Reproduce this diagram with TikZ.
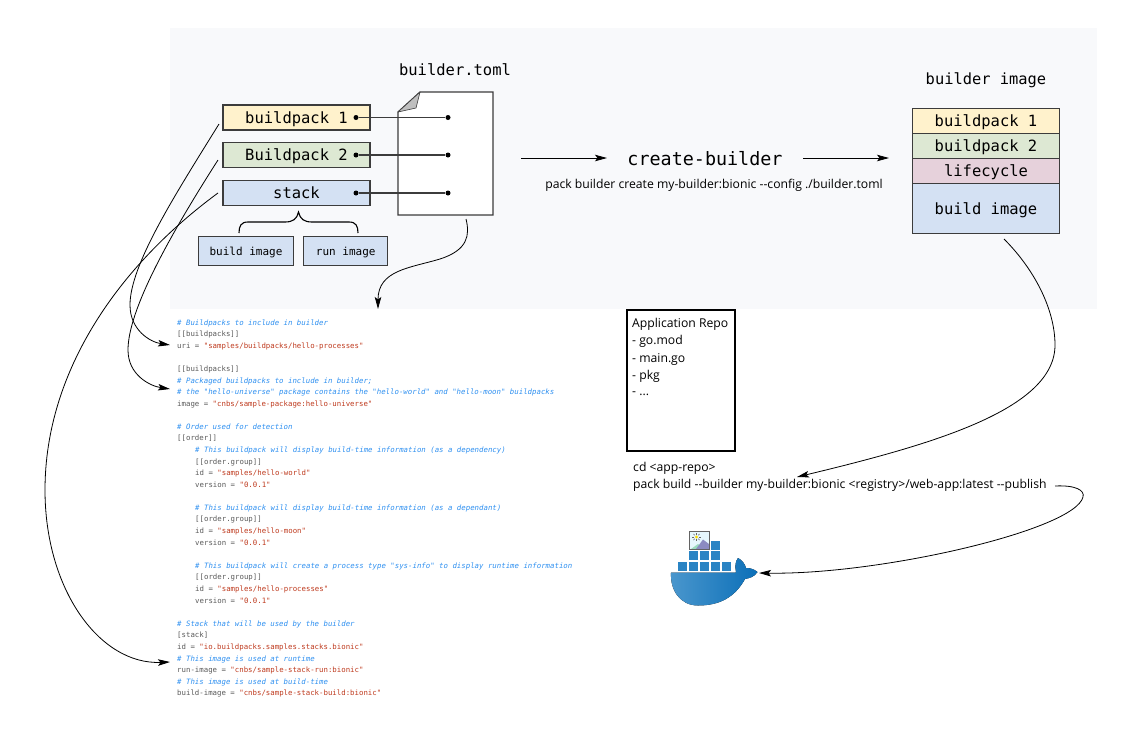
\documentclass[tikz,border=0pt]{standalone}
\usepackage{fontspec}
\setmainfont{Open Sans}
\newfontfamily\monofont{DejaVu Sans Mono}
\usetikzlibrary{positioning,arrows.meta}
\definecolor{panelbg}{HTML}{F8F9FB}
\definecolor{packyellow}{HTML}{FFF2CC}
\definecolor{packgreen}{HTML}{DDE8D3}
\definecolor{packblue}{HTML}{D4E1F3}
\definecolor{packpink}{HTML}{E6D1DB}
\definecolor{edgegrey}{HTML}{3C3C3C}
\definecolor{tomlgrey}{HTML}{5A5A5A}
\definecolor{tomlblue}{HTML}{2F90F0}
\definecolor{tomlred}{HTML}{BE3A1E}
\definecolor{whaleblue}{HTML}{2A84C4}
\definecolor{whaledeep}{HTML}{0B6FB8}
\newcommand{\tomlnote}[1]{\textcolor{tomlblue}{\itshape\#~#1}}
\newcommand{\tomlval}[1]{\textcolor{tomlred}{#1}}
\begin{document}
\begin{tikzpicture}[
    x=1pt, y=-1pt,
    box/.style={rectangle, draw=edgegrey, line width=1.1pt, outer sep=0pt, minimum width=147pt, minimum height=25pt, inner sep=0pt, text height=13pt, text depth=1.5pt, font=\monofont\fontsize{15.5}{18}\selectfont},
    smallbox/.style={rectangle, draw=edgegrey, line width=1.1pt, outer sep=0pt, fill=packblue, minimum height=28.5pt, inner sep=0pt, text height=9.5pt, text depth=1pt, font=\monofont\fontsize{11}{13}\selectfont},
    layer/.style={box, minimum width=146.5pt},
    title/.style={inner sep=0pt, font=\monofont\fontsize{15.5}{18}\selectfont},
    plain/.style={inner sep=0pt, anchor=west, font=\fontsize{12.2}{16}\selectfont},
    toml/.style={inner sep=0pt, anchor=west, text=tomlgrey, font=\monofont\fontsize{7.37}{9}\selectfont},
    dot/.style={circle, fill=black, inner sep=0pt, minimum size=5pt},
    arrow/.style={-{Stealth[length=12pt,width=6.5pt,inset=2.5pt]}, line width=0.8pt},
    link/.style={line width=1.1pt, edgegrey},
    cube/.style={fill=whaleblue, draw=none}
]
    % Panel
    \fill[panelbg] (170,28) rectangle (1097,309);

    % Document
    \coordinate (sheetA) at (420,92);
    \coordinate (sheetB) at (493,92);
    \coordinate (sheetC) at (493,215);
    \coordinate (sheetD) at (398,215);
    \coordinate (sheetE) at (398,112);
    \coordinate (foldin) at (416,108);
    \draw[edgegrey, line width=1.2pt, fill=white] (sheetA) -- (sheetB) -- (sheetC) -- (sheetD) -- (sheetE) -- cycle;
    \draw[edgegrey, line width=0.6pt, fill=black!25, line join=round] (sheetA) -- (sheetE) -- (foldin) -- cycle;
    \node[title] (tomlname) at (455,70) {builder.toml};

    % Builder contents
    \node[box, fill=packyellow] (pack1) at (296.5,117.5) {buildpack 1};
    \node[box, fill=packgreen, below=12.7pt of pack1] (pack2) {Buildpack 2};
    \node[box, fill=packblue, below=12.7pt of pack2] (stack) {stack};
    \node[smallbox, minimum width=94.5pt] (buildimg) at (246,251) {build image};
    \node[smallbox, minimum width=84pt, right=10.5pt of buildimg] (runimg) {run image};

    % Dots on the document
    \node[dot] (dot1a) at (356,117.5) {};
    \node[dot] (dot1b) at (448,117.5) {};
    \node[dot] (dot2a) at (356,155) {};
    \node[dot] (dot2b) at (448,155) {};
    \node[dot] (dot3a) at (356,193) {};
    \node[dot] (dot3b) at (448,193) {};
    \draw[link] (dot1a) -- (dot1b);
    \draw[link] (dot2a) -- (dot2b);
    \draw[link] (dot3a) -- (dot3b);

    % Brace
    \coordinate (braceL) at (239,233);
    \coordinate (braceM) at (298.5,212);
    \coordinate (braceR) at (358,233);
    \draw[black, line width=1.1pt] (braceL) .. controls (239,226) and (241,222) .. (248,222)
        -- (285,222) .. controls (293,222) and (297,219) .. (braceM)
        .. controls (300,219) and (304,222) .. (312,222)
        -- (349,222) .. controls (356,222) and (358,226) .. (braceR);

    % Create-builder
    \node[inner sep=0pt, font=\monofont\fontsize{18.4}{22}\selectfont] (create) at (705,159) {create-builder};
    \node[inner sep=0pt, font=\fontsize{12.2}{16}\selectfont] (createcmd) at (714,185) {pack builder create my-builder:bionic -{}-config ./builder.toml};
    \coordinate (flowA) at (521,158);
    \coordinate (flowB) at (607,158);
    \coordinate (flowC) at (803,158);
    \coordinate (flowD) at (889,158);
    \draw[arrow] (flowA) -- (flowB);
    \draw[arrow] (flowC) -- (flowD);

    % Builder image
    \node[title, font=\monofont\fontsize{15.4}{18}\selectfont] (imagename) at (986,80.5) {builder image};
    \node[layer, fill=packyellow, minimum height=24.6pt] (lay1) at (986,121) {buildpack 1};
    \node[layer, fill=packgreen, minimum height=25.4pt, below=0pt of lay1] (lay2) {buildpack 2};
    \node[layer, fill=packpink, minimum height=24.6pt, below=0pt of lay2] (lay3) {lifecycle};
    \node[layer, fill=packblue, minimum height=50pt, below=0pt of lay3] (lay4) {build image};

    % Application repo
    \node[draw=black, line width=1.6pt, minimum width=108pt, minimum height=141pt] (repo) at (681,380.5) {};
    \node[plain] (repo1) at (632,324) {Application Repo};
    \node[plain] (repo2) at (632,341.5) {- go.mod};
    \node[plain] (repo3) at (632,359) {- main.go};
    \node[plain] (repo4) at (632,376.5) {- pkg};
    \node[plain] (repo5) at (632,394) {- ...};
    \node[plain] (cdline) at (633,468) {cd <app-repo>};
    \node[plain] (packline) at (633,485) {pack build -{}-builder my-builder:bionic <registry>/web-app:latest -{}-publish};

    % builder.toml listing
    \node[toml] (t01) at (177,323) {\tomlnote{Buildpacks to include in builder}};
    \node[toml] (t02) at (177,334.5) {[[buildpacks]]};
    \node[toml] (t03) at (177,346) {uri = \tomlval{"samples/buildpacks/hello-processes"}};
    \node[toml] (t04) at (177,369) {[[buildpacks]]};
    \node[toml] (t05) at (177,381) {\tomlnote{Packaged buildpacks to include in builder;}};
    \node[toml] (t06) at (177,392.5) {\tomlnote{the "hello-universe" package contains the "hello-world" and "hello-moon" buildpacks}};
    \node[toml] (t07) at (177,404) {image = \tomlval{"cnbs/sample-package:hello-universe"}};
    \node[toml] (t08) at (177,427) {\tomlnote{Order used for detection}};
    \node[toml] (t09) at (177,438.5) {[[order]]};
    \node[toml] (t10) at (195,450) {\tomlnote{This buildpack will display build-time information (as a dependency)}};
    \node[toml] (t11) at (195,462) {[[order.group]]};
    \node[toml] (t12) at (195,473.5) {id = \tomlval{"samples/hello-world"}};
    \node[toml] (t13) at (195,485) {version = \tomlval{"0.0.1"}};
    \node[toml] (t14) at (195,508) {\tomlnote{This buildpack will display build-time information (as a dependant)}};
    \node[toml] (t15) at (195,519.5) {[[order.group]]};
    \node[toml] (t16) at (195,531) {id = \tomlval{"samples/hello-moon"}};
    \node[toml] (t17) at (195,543) {version = \tomlval{"0.0.1"}};
    \node[toml] (t18) at (195,566) {\tomlnote{This buildpack will create a process type "sys-info" to display runtime information}};
    \node[toml] (t19) at (195,577.5) {[[order.group]]};
    \node[toml] (t20) at (195,589) {id = \tomlval{"samples/hello-processes"}};
    \node[toml] (t21) at (195,601) {version = \tomlval{"0.0.1"}};
    \node[toml] (t22) at (177,624) {\tomlnote{Stack that will be used by the builder}};
    \node[toml] (t23) at (177,635.5) {[stack]};
    \node[toml] (t24) at (177,647) {id = \tomlval{"io.buildpacks.samples.stacks.bionic"}};
    \node[toml] (t25) at (177,659) {\tomlnote{This image is used at runtime}};
    \node[toml] (t26) at (177,670.5) {run-image = \tomlval{"cnbs/sample-stack-run:bionic"}};
    \node[toml] (t27) at (177,682) {\tomlnote{This image is used at build-time}};
    \node[toml] (t28) at (177,693.5) {build-image = \tomlval{"cnbs/sample-stack-build:bionic"}};

    % Docker whale
    \foreach \cx in {678,689,700,711,722} \fill[cube] (\cx,562) rectangle ++(8.8,9);
    \foreach \cx in {689,700,711} \fill[cube] (\cx,551) rectangle ++(8.8,9);
    \fill[cube] (711,540.5) rectangle ++(8.8,9);
    \fill[left color=whaleblue!85!white, right color=whaledeep]
        (671,572.5) -- (736,572.5) .. controls (735,566) and (735,562) .. (738,558)
        .. controls (742,560) and (745,564) .. (746,568) .. controls (750,568) and (754,569) .. (757.5,572)
        .. controls (754,577) and (750,578) .. (745,579) .. controls (735,597) and (720,605.5) .. (698,605.5)
        .. controls (680,605.5) and (670,590) .. (671,572.5) -- cycle;
    % Image icon on the whale
    \fill[cyan!10] (689.5,531) rectangle (709,549);
    \fill[green!30!teal!40] (691,549) -- (698,544) -- (704,549) -- cycle;
    \fill[blue!30!gray!70] (696,549) -- (703,539.5) -- (709,544) -- (709,549) -- cycle;
    \fill[yellow!80!orange] (696.5,537) circle (1.6pt);
    \foreach \a in {0,45,...,315} \draw[gray!80!black, line width=0.4pt] (696.5,537) ++(\a:2.4pt) -- ++(\a:2pt);
    \draw[edgegrey!80, line width=0.9pt] (689.5,531) rectangle (709,549);

    % Curved arrows
    \coordinate (from1) at (219,124);
    \coordinate (to1) at (170,345);
    \coordinate (from2) at (218,160);
    \coordinate (to2) at (170,389);
    \coordinate (from3) at (218,193);
    \coordinate (to3) at (170,662);
    \coordinate (fromsheet) at (466,219);
    \coordinate (tolist) at (378,309);
    \coordinate (fromimage) at (1004,239);
    \coordinate (tobuild) at (797,477);
    \coordinate (frompublish) at (1055,486);
    \coordinate (towhale) at (759,573);
    \draw[arrow] (from1) .. controls (175,195) and (130,265) .. (130,305) .. controls (130,330) and (150,342) .. (to1);
    \draw[arrow] (from2) .. controls (170,235) and (128,310) .. (128,350) .. controls (128,375) and (150,386) .. (to2);
    \draw[arrow] (from3) .. controls (120,265) and (45,370) .. (45,490) .. controls (45,590) and (100,665) .. (to3);
    \draw[arrow] (fromsheet) .. controls (470,235) and (468,250) .. (440,259) .. controls (410,268) and (378,270) .. (tolist);
    \draw[arrow] (fromimage) .. controls (1035,270) and (1055,310) .. (1055,345) .. controls (1055,410) and (930,445) .. (tobuild);
    \draw[arrow] (frompublish) .. controls (1075,485) and (1085,490) .. (1083,497) .. controls (1075,530) and (880,575) .. (towhale);

    \useasboundingbox (0,0) rectangle (1138,739);
\end{tikzpicture}
\end{document}
